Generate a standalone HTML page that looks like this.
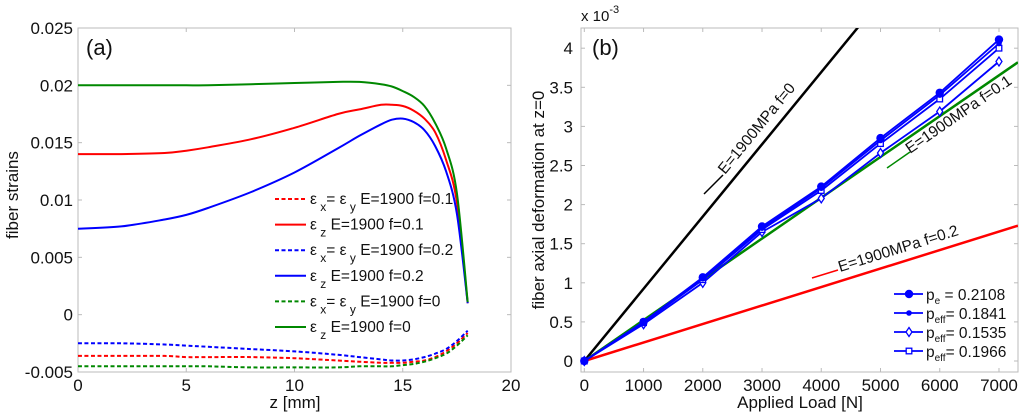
<!DOCTYPE html>
<html><head><meta charset="utf-8"><style>
html,body{margin:0;padding:0;background:#fff}
svg{display:block;font-family:"Liberation Sans",Arial,sans-serif}
</style></head><body>
<svg id="chart" width="1024" height="415" viewBox="0 0 1024 415" xmlns="http://www.w3.org/2000/svg">
<g id="pa"></g>
<g id="pb"></g>
</svg>
<script>
// ---- Panel (a) data ----
const zA = [0,2,4,5,6,8,10,12,13,14,14.5,15,15.5,16,16.5,17,17.5,18];
const ezF01 = [0.014,0.014,0.0141,0.0143,0.0146,0.0153,0.0163,0.0175,0.0179,0.0183,0.0183,0.0182,0.0178,0.0171,0.0159,0.0135,0.0098,0.001];
const ezF02 = [0.0075,0.0077,0.0083,0.0087,0.0093,0.0107,0.0124,0.0145,0.0156,0.0166,0.017,0.0171,0.0168,0.0161,0.0147,0.0125,0.0088,0.001];
const ezF0 = [0.02,0.02,0.02,0.02,0.02,0.0201,0.0202,0.0203,0.0203,0.0201,0.0199,0.0195,0.019,0.0182,0.0167,0.0145,0.0106,0.0011];
const exF01 = [-0.0036,-0.0036,-0.0036,-0.0037,-0.0037,-0.0037,-0.0038,-0.004,-0.0041,-0.0042,-0.0042,-0.0042,-0.0041,-0.004,-0.0037,-0.0032,-0.0025,-0.0016];
const exF02 = [-0.0025,-0.0025,-0.0026,-0.0027,-0.0028,-0.003,-0.0032,-0.0035,-0.0037,-0.0039,-0.004,-0.004,-0.0039,-0.0037,-0.0034,-0.003,-0.0023,-0.0014];
const exF0 = [-0.0045,-0.0045,-0.0045,-0.0045,-0.0045,-0.0046,-0.0046,-0.0046,-0.0045,-0.0045,-0.0045,-0.0044,-0.0043,-0.0041,-0.0038,-0.0034,-0.0027,-0.0018];
const aXTicks = [0,5,10,15,20];
const aYTicks = [-0.005,0,0.005,0.01,0.015,0.02,0.025];
const aYLabels = ["-0.005","0","0.005","0.01","0.015","0.02","0.025"];
// ---- Panel (b) data ----
const loads = [0,1000,2000,3000,4000,5000,6000,7000];
const pe2108 = [0,0.5,1.07,1.72,2.23,2.85,3.43,4.11];
const pe1841 = [0,0.5,1.06,1.70,2.21,2.82,3.40,4.06];
const pe1535 = [0,0.47,1.0,1.65,2.08,2.66,3.19,3.83];
const pe1966 = [0,0.49,1.04,1.68,2.18,2.78,3.35,4.0];
const refLoads = [0,7320];
const refF0 = [0,6.76];
const refF01 = [0,3.82];
const refF02 = [0,1.73];
const bXTicks = [0,1000,2000,3000,4000,5000,6000,7000];
const bYTicks = [0,0.5,1,1.5,2,2.5,3,3.5,4];
const bYLabels = ["0","0.5","1","1.5","2","2.5","3","3.5","4"];

const NS="http://www.w3.org/2000/svg";
function mk(parent,tag,attrs,text){const e=document.createElementNS(NS,tag);for(const k in attrs)e.setAttribute(k,attrs[k]);if(text!==undefined)e.textContent=text;parent.appendChild(e);return e;}
function pathD(xs,ys,fx,fy){return xs.map((x,i)=>(i?'L':'M')+fx(x).toFixed(1)+' '+fy(ys[i]).toFixed(1)).join(' ');}
function smoothD(xs,ys,fx,fy){
  const p=xs.map((x,i)=>[fx(x),fy(ys[i])]);
  let d='M'+p[0][0].toFixed(1)+' '+p[0][1].toFixed(1);
  for(let i=0;i<p.length-1;i++){
    const p0=p[i-1]||p[i],p1=p[i],p2=p[i+1],p3=p[i+2]||p[i+1];
    const c1=[p1[0]+(p2[0]-p0[0])/6,p1[1]+(p2[1]-p0[1])/6];
    const c2=[p2[0]-(p3[0]-p1[0])/6,p2[1]-(p3[1]-p1[1])/6];
    d+=`C${c1[0].toFixed(1)} ${c1[1].toFixed(1)} ${c2[0].toFixed(1)} ${c2[1].toFixed(1)} ${p2[0].toFixed(1)} ${p2[1].toFixed(1)}`;
  }
  return d;
}
const FS=17;

// ---- Panel (a) ----
const pa=document.getElementById('pa');
const aL=78,aR=511,aT=28,aB=372;
const ax=v=>aL+(v-0)/20*(aR-aL);
const ay=v=>aB-(v+0.005)/0.03*(aB-aT);
let e=mk(pa,'rect',{x:aL,y:aT,width:aR-aL,height:aB-aT,fill:'#fff',stroke:'#bbb','stroke-width':1});


aXTicks.forEach(t=>{
  mk(pa,'line',{x1:ax(t),x2:ax(t),y1:aB,y2:aB-4,stroke:'#bbb'});
  mk(pa,'line',{x1:ax(t),x2:ax(t),y1:aT,y2:aT+4,stroke:'#bbb'});
  e=mk(pa,'text',{x:ax(t),y:aB+19,'font-size':FS,'text-anchor':'middle',fill:'#111'},String(t));
  
  
});
aYTicks.forEach((t,i)=>{
  mk(pa,'line',{x1:aL,x2:aL+4,y1:ay(t),y2:ay(t),stroke:'#bbb'});
  mk(pa,'line',{x1:aR,x2:aR-4,y1:ay(t),y2:ay(t),stroke:'#bbb'});
  e=mk(pa,'text',{x:aL-5,y:ay(t)+6,'font-size':FS,'text-anchor':'end',fill:'#111'},aYLabels[i]);
  
  
});
e=mk(pa,'text',{x:295,y:408,'font-size':FS,'text-anchor':'middle',fill:'#111'},'z [mm]');


e=mk(pa,'text',{x:0,y:0,'font-size':FS,'text-anchor':'middle',fill:'#111',transform:'translate(18,195) rotate(-90)'},'fiber strains');


e=mk(pa,'text',{x:86,y:55,'font-size':22,fill:'#111'},'(a)');


const aSeries=[[exF01,'#f00',1],[ezF01,'#f00',0],[exF02,'#00f',1],[ezF02,'#00f',0],[exF0,'#080',1],[ezF0,'#080',0]];
const aNames=['ex-f01-line','ez-f01-line','ex-f02-line','ez-f02-line','ex-f0-line','ez-f0-line'];
aSeries.forEach((s,i)=>{
  e=mk(pa,'path',{d:smoothD(zA,s[0],ax,ay),fill:'none',stroke:s[1],'stroke-width':2,'stroke-dasharray':s[2]?'4 2.5':'none'});
  
  
});
const legA=mk(pa,'g',{});


const aLegTxt=[['x','y','E=1900 f=0.1'],['z',null,'E=1900 f=0.1'],['x','y','E=1900 f=0.2'],['z',null,'E=1900 f=0.2'],['x','y','E=1900 f=0'],['z',null,'E=1900 f=0']];
aSeries.forEach((s,i)=>{
  const y=199+i*25.6;
  const g=mk(legA,'g',{});
  
  
  mk(g,'line',{x1:275,x2:306,y1:y,y2:y,stroke:s[1],'stroke-width':2,'stroke-dasharray':s[2]?'4 2.5':'none'});
  const t=mk(g,'text',{x:310,y:y+5,'font-size':15.5,fill:'#111'});
  const L=aLegTxt[i];
  mk(t,'tspan',{},'ε');
  mk(t,'tspan',{dy:7,'font-size':12},' '+L[0]);
  if(L[1]){mk(t,'tspan',{dy:-7},'= ε');mk(t,'tspan',{dy:7,'font-size':12},' '+L[1]);mk(t,'tspan',{dy:-7},' '+L[2]);}
  else{mk(t,'tspan',{dy:-7},' '+L[2]);}
});

// ---- Panel (b) ----
const pb=document.getElementById('pb');
const bL=581,bR=1018,bT=28,bB=372;
const bx=v=>584.3+v/1000*59.24;
const by=v=>361-v*78.2;
const clip=mk(pb,'clipPath',{id:'cb'});mk(clip,'rect',{x:bL,y:bT,width:bR-bL,height:bB-bT});
e=mk(pb,'rect',{x:bL,y:bT,width:bR-bL,height:bB-bT,fill:'#fff',stroke:'#bbb','stroke-width':1});


bXTicks.forEach(t=>{
  mk(pb,'line',{x1:bx(t),x2:bx(t),y1:bB,y2:bB-4,stroke:'#bbb'});
  mk(pb,'line',{x1:bx(t),x2:bx(t),y1:bT,y2:bT+4,stroke:'#bbb'});
  e=mk(pb,'text',{x:bx(t),y:bB+19,'font-size':FS,'text-anchor':'middle',fill:'#111'},String(t));
  
  
});
bYTicks.forEach((t,i)=>{
  mk(pb,'line',{x1:bL,x2:bL+4,y1:by(t),y2:by(t),stroke:'#bbb'});
  mk(pb,'line',{x1:bR,x2:bR-4,y1:by(t),y2:by(t),stroke:'#bbb'});
  e=mk(pb,'text',{x:bL-8,y:by(t)+6,'font-size':FS,'text-anchor':'end',fill:'#111'},bYLabels[i]);
  
  
});
e=mk(pb,'text',{x:581,y:21,'font-size':15,fill:'#111'});
mk(e,'tspan',{},'x 10');mk(e,'tspan',{dy:-8,'font-size':11},'-3');


e=mk(pb,'text',{x:800,y:408,'font-size':FS,'text-anchor':'middle',fill:'#111'},'Applied Load [N]');


e=mk(pb,'text',{x:0,y:0,'font-size':FS,'text-anchor':'middle',fill:'#111',transform:'translate(544,200) rotate(-90)'},'fiber axial deformation at z=0');


e=mk(pb,'text',{x:592,y:55,'font-size':22,fill:'#111'},'(b)');


const refs=[[refF0,'#000','ref-line-f0'],[refF02,'#f00','ref-line-f02'],[refF01,'#080','ref-line-f01']];
refs.forEach(r=>{
  e=mk(pb,'path',{d:pathD(refLoads,r[0],bx,by),fill:'none',stroke:r[1],'stroke-width':2.5,'clip-path':'url(#cb)'});
  
  
});
const bSeries=[[pe1535,'diamond'],[pe1966,'square'],[pe1841,'dot'],[pe2108,'circle']];
const bNames=['series-p1535','series-p1966','series-p1841','series-p2108'];
function marker(g,type,x,y){
  if(type==='circle')mk(g,'circle',{cx:x,cy:y,r:4.2,fill:'#00f'});
  else if(type==='dot')mk(g,'circle',{cx:x,cy:y,r:2.8,fill:'#00f'});
  else if(type==='diamond')mk(g,'path',{d:`M${x} ${y-4.5}L${x+3} ${y}L${x} ${y+4.5}L${x-3} ${y}Z`,fill:'#fff',stroke:'#00f','stroke-width':1.3});
  else mk(g,'rect',{x:x-2.8,y:y-2.8,width:5.6,height:5.6,fill:'#fff',stroke:'#00f','stroke-width':1.3});
}
bSeries.forEach((s,i)=>{
  const g=mk(pb,'g',{});
  
  
  mk(g,'path',{d:pathD(loads,s[0],bx,by),fill:'none',stroke:'#00f','stroke-width':1.8});
  loads.forEach((l,j)=>marker(g,s[1],bx(l),by(s[0][j])));
});
const lbls=[['#000',704,194,723,175,725,175,-50.7,'E=1900MPa f=0','label-f0'],
            ['#080',887,168,910,152,910,154,-34.6,'E=1900MPa f=0.1','label-f01'],
            ['#f00',812,278,838,270,840,272,-17.3,'E=1900MPa f=0.2','label-f02']];
lbls.forEach(l=>{
  const g=mk(pb,'g',{});
  
  
  mk(g,'line',{x1:l[1],y1:l[2],x2:l[3],y2:l[4],stroke:l[0],'stroke-width':1.5});
  mk(g,'text',{x:0,y:0,'font-size':15.5,fill:'#111',transform:`translate(${l[5]},${l[6]}) rotate(${l[7]})`},l[8]);
});
const legB=mk(pb,'g',{});


const bLeg=[['circle','e',' = 0.2108'],['dot','eff','= 0.1841'],['diamond','eff','= 0.1535'],['square','eff','= 0.1966']];
bLeg.forEach((L,i)=>{
  const y=294+i*19;
  const g=mk(legB,'g',{});
  
  
  mk(g,'line',{x1:894,x2:923,y1:y,y2:y,stroke:'#00f','stroke-width':1.8});
  marker(g,L[0],909,y);
  const t=mk(g,'text',{x:926,y:y+6,'font-size':15.5,fill:'#111'});
  mk(t,'tspan',{},'p');mk(t,'tspan',{dy:4,'font-size':10},L[1]);mk(t,'tspan',{dy:-4},L[2]);
});
</script>
</body></html>
